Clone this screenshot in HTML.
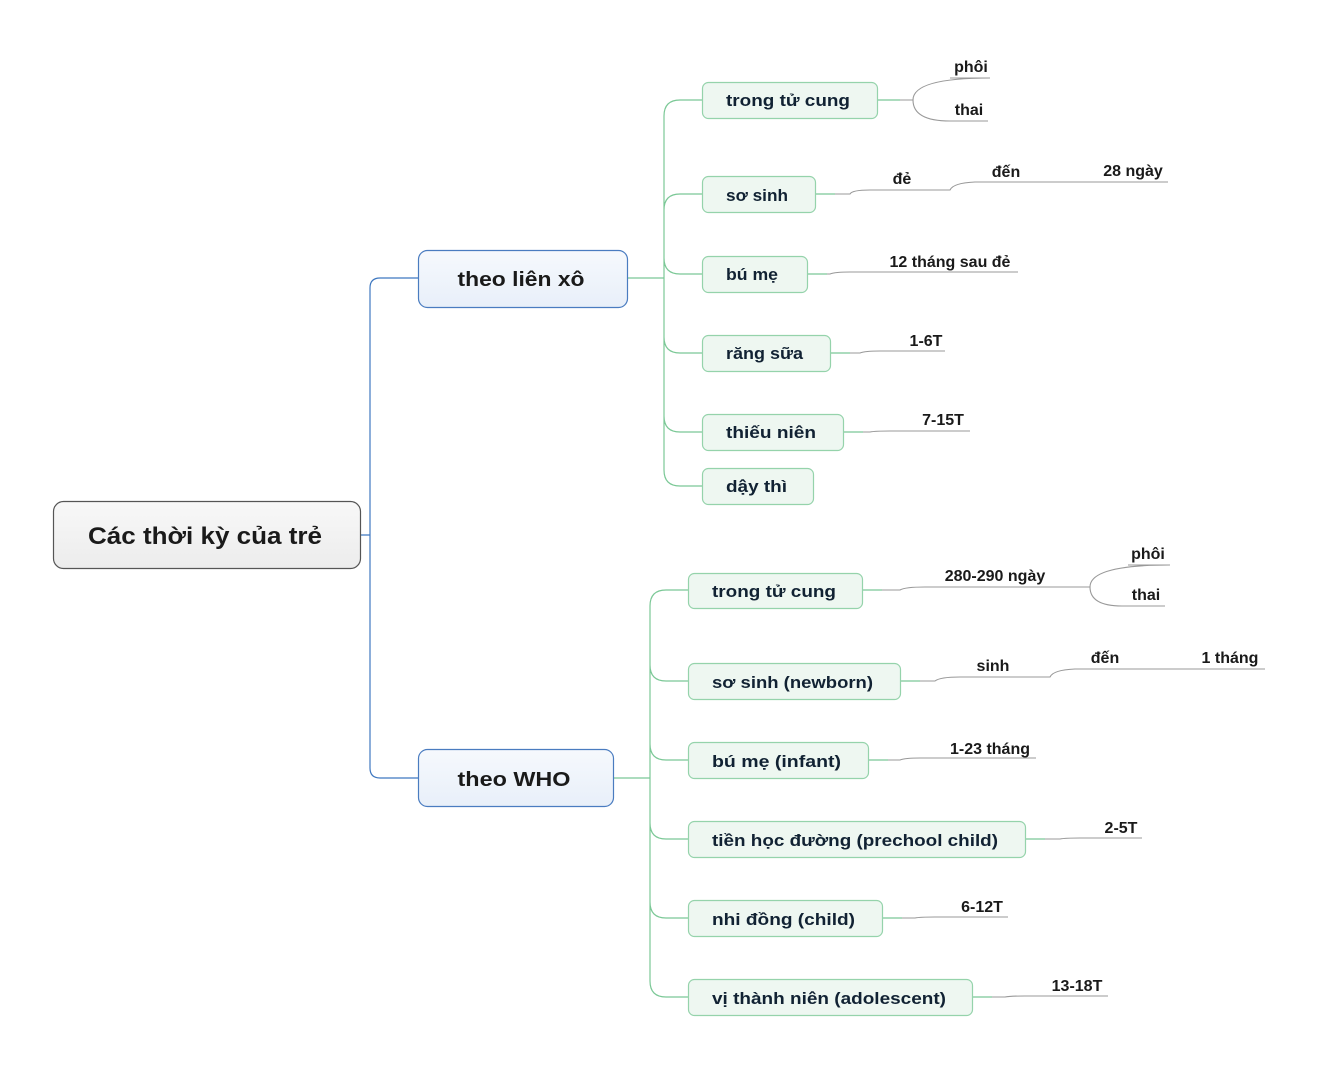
<!DOCTYPE html>
<html><head><meta charset="utf-8"><style>
html,body{margin:0;padding:0;background:#fff;}
svg{display:block;}
text{font-family:"Liberation Sans","DejaVu Sans",sans-serif;font-weight:bold;fill:#1a1a1a;}
.n{font-size:17px;fill:#123;}
.l{font-size:16px;}
.g{fill:none;stroke:#7bc896;stroke-width:1.2;}
.b{fill:none;stroke:#3f78c0;stroke-width:1.2;}
.k{fill:none;stroke:#999;stroke-width:1.1;}
.gn{fill:#eef7f1;stroke:#95d3ab;stroke-width:1.2;}
</style></head><body>
<svg width="1318" height="1069" viewBox="0 0 1318 1069" xmlns="http://www.w3.org/2000/svg">
<defs>
<linearGradient id="rg" x1="0" y1="0" x2="0" y2="1"><stop offset="0" stop-color="#f8f8f8"/><stop offset="1" stop-color="#ececec"/></linearGradient>
<linearGradient id="bg" x1="0" y1="0" x2="0" y2="1"><stop offset="0" stop-color="#f6f9fd"/><stop offset="1" stop-color="#e8eff9"/></linearGradient>
</defs>
<path class="b" d="M360 535 H370 M418 278 H380 Q370 278 370 288 V768 Q370 778 380 778 H418"/>
<path class="g" d="M627 278 H664 M702 100 H680 Q664 100 664 116 V470 Q664 486 680 486 H702 M664 210 Q664 194 680 194 H702 M664 258 Q664 274 680 274 H702 M664 337 Q664 353 680 353 H702 M664 416 Q664 432 680 432 H702"/>
<path class="g" d="M613 778 H650 M688 590 H666 Q650 590 650 606 V981 Q650 997 666 997 H688 M650 665 Q650 681 666 681 H688 M650 744 Q650 760 666 760 H688 M650 823 Q650 839 666 839 H688 M650 902 Q650 918 666 918 H688"/>
<path class="g" d="M877 100 H900 M815 194 H835 M807 274 H827 M830 353 H850 M843 432 H863 M862 590 H882 M900 681 H920 M868 760 H888 M1025 839 H1045 M882 918 H902 M972 997 H992"/>
<path class="k" d="M900 100 H913 M950 78 H990 Q913 78 913 100 Q913 121 950 121 H988"/>
<path class="k" d="M835 194 H850 Q852 190 870 190 H950 Q953 183 975 182 H1168"/>
<path class="k" d="M827 274 H830 Q835 272 850 272 H1018"/>
<path class="k" d="M850 353 H860 Q865 351 880 351 H945"/>
<path class="k" d="M863 432 H870 Q875 431 890 431 H970"/>
<path class="k" d="M882 590 H900 Q905 587 925 587 H1090 M1128 565 H1170 Q1090 565 1090 587 Q1090 606 1122 606 H1165"/>
<path class="k" d="M920 681 H935 Q940 677 960 677 H1050 Q1053 670 1075 669 H1265"/>
<path class="k" d="M888 760 H900 Q905 758 920 758 H1036"/>
<path class="k" d="M1045 839 H1060 Q1065 838 1080 838 H1142"/>
<path class="k" d="M902 918 H915 Q920 917 935 917 H1008"/>
<path class="k" d="M992 997 H1005 Q1010 996 1025 996 H1108"/>
<rect x="53.5" y="501.5" width="307" height="67" rx="10" fill="url(#rg)" stroke="#555" stroke-width="1.2"/>
<text x="205" y="544" text-anchor="middle" font-size="24" textLength="234" lengthAdjust="spacingAndGlyphs">Các thời kỳ của trẻ</text>
<rect x="418.5" y="250.5" width="209" height="57" rx="9" fill="url(#bg)" stroke="#4a7cc0" stroke-width="1.2"/>
<text x="521" y="286" text-anchor="middle" font-size="20" textLength="127" lengthAdjust="spacingAndGlyphs">theo liên xô</text>
<rect x="418.5" y="749.5" width="195" height="57" rx="9" fill="url(#bg)" stroke="#4a7cc0" stroke-width="1.2"/>
<text x="514" y="786" text-anchor="middle" font-size="20" textLength="113" lengthAdjust="spacingAndGlyphs">theo WHO</text>
<rect class="gn" x="702.5" y="82.5" width="175" height="36" rx="6"/>
<text class="n" x="726" y="106" textLength="124" lengthAdjust="spacingAndGlyphs">trong tử cung</text>
<rect class="gn" x="702.5" y="176.5" width="113" height="36" rx="6"/>
<text class="n" x="726" y="201" textLength="62" lengthAdjust="spacingAndGlyphs">sơ sinh</text>
<rect class="gn" x="702.5" y="256.5" width="105" height="36" rx="6"/>
<text class="n" x="726" y="280" textLength="52" lengthAdjust="spacingAndGlyphs">bú mẹ</text>
<rect class="gn" x="702.5" y="335.5" width="128" height="36" rx="6"/>
<text class="n" x="726" y="359" textLength="77" lengthAdjust="spacingAndGlyphs">răng sữa</text>
<rect class="gn" x="702.5" y="414.5" width="141" height="36" rx="6"/>
<text class="n" x="726" y="438" textLength="90" lengthAdjust="spacingAndGlyphs">thiếu niên</text>
<rect class="gn" x="702.5" y="468.5" width="111" height="36" rx="6"/>
<text class="n" x="726" y="492" textLength="61" lengthAdjust="spacingAndGlyphs">dậy thì</text>
<rect class="gn" x="688.5" y="573.5" width="174" height="35" rx="6"/>
<text class="n" x="712" y="597" textLength="124" lengthAdjust="spacingAndGlyphs">trong tử cung</text>
<rect class="gn" x="688.5" y="663.5" width="212" height="36" rx="6"/>
<text class="n" x="712" y="688" textLength="161" lengthAdjust="spacingAndGlyphs">sơ sinh (newborn)</text>
<rect class="gn" x="688.5" y="742.5" width="180" height="36" rx="6"/>
<text class="n" x="712" y="767" textLength="129" lengthAdjust="spacingAndGlyphs">bú mẹ (infant)</text>
<rect class="gn" x="688.5" y="821.5" width="337" height="36" rx="6"/>
<text class="n" x="712" y="846" textLength="286" lengthAdjust="spacingAndGlyphs">tiền học đường (prechool child)</text>
<rect class="gn" x="688.5" y="900.5" width="194" height="36" rx="6"/>
<text class="n" x="712" y="925" textLength="143" lengthAdjust="spacingAndGlyphs">nhi đồng (child)</text>
<rect class="gn" x="688.5" y="979.5" width="284" height="36" rx="6"/>
<text class="n" x="712" y="1004" textLength="234" lengthAdjust="spacingAndGlyphs">vị thành niên (adolescent)</text>
<g class="l" text-anchor="middle">
<text x="971" y="72">phôi</text>
<text x="969" y="115">thai</text>
<text x="902" y="184">đẻ</text>
<text x="1006" y="177">đến</text>
<text x="1133" y="176">28 ngày</text>
<text x="950" y="267">12 tháng sau đẻ</text>
<text x="926" y="346">1-6T</text>
<text x="943" y="425">7-15T</text>
<text x="995" y="581">280-290 ngày</text>
<text x="1148" y="559">phôi</text>
<text x="1146" y="600">thai</text>
<text x="993" y="671">sinh</text>
<text x="1105" y="663">đến</text>
<text x="1230" y="663">1 tháng</text>
<text x="990" y="754">1-23 tháng</text>
<text x="1121" y="833">2-5T</text>
<text x="982" y="912">6-12T</text>
<text x="1077" y="991">13-18T</text>
</g>
</svg>
</body></html>
